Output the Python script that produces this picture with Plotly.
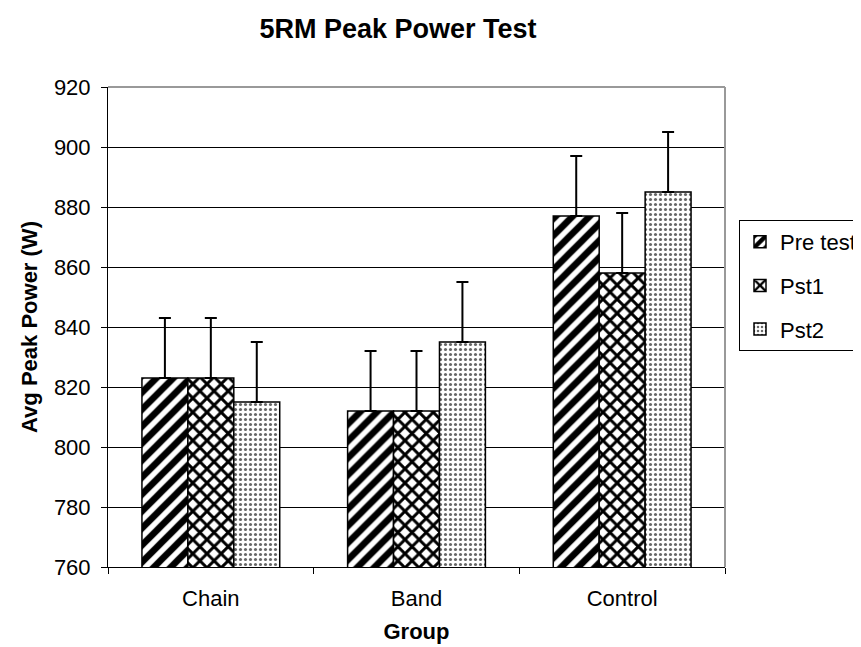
import plotly.graph_objects as go

categories = ["Chain", "Band", "Control"]
series_names = ["Pre test", "Pst1", "Pst2"]
pre_test = [823, 812, 877]
pst1 = [823, 812, 858]
pst2 = [815, 835, 885]
err_pre = [20, 20, 20]
err_pst1 = [20, 20, 20]
err_pst2 = [20, 20, 20]
y_ticks = [760, 780, 800, 820, 840, 860, 880, 900, 920]

FONT = "Liberation Sans, Arial, sans-serif"

patterns = [
    dict(shape="/", fgcolor="black", bgcolor="white", size=12, solidity=0.55, fillmode="replace"),
    dict(shape="x", fgcolor="black", bgcolor="white", size=10, solidity=0.5, fillmode="replace"),
    dict(shape=".", fgcolor="#666666", bgcolor="white", size=5, solidity=0.3, fillmode="replace"),
]

fig = go.Figure()
for name, vals, errs, pat in zip(series_names, [pre_test, pst1, pst2],
                                 [err_pre, err_pst1, err_pst2], patterns):
    fig.add_trace(go.Bar(
        x=categories, y=vals, name=name, legendgroup=name,
        marker=dict(color="white", pattern=pat, line=dict(color="black", width=1.5)),
        error_y=dict(type="data", array=errs, arrayminus=[0] * len(errs), symmetric=False,
                     color="black", thickness=2, width=6),
    ))

fig.update_layout(
    width=861, height=647,
    margin=dict(l=100, r=144, t=79, b=88, autoexpand=False),
    paper_bgcolor="white", plot_bgcolor="white",
    barmode="group", bargap=0.33, bargroupgap=0,
    font=dict(family=FONT, size=22, color="black"),
    title=dict(text="<b>5RM Peak Power Test</b>", x=390 / 861, xanchor="center",
               xref="container", yref="container",
               y=1 - 21 / 647, yanchor="middle", font=dict(size=27, family=FONT)),
    legend=dict(xref="container", yref="container",
                x=731 / 861, xanchor="left", y=1 - 212 / 647, yanchor="top",
                bordercolor="black", borderwidth=1, font=dict(size=22, family=FONT),
                tracegroupgap=12, itemwidth=30),
    showlegend=True,
)
fig.update_xaxes(
    title=dict(text="<b>Group</b>", font=dict(size=22, family=FONT), standoff=13),
    showline=True, linecolor="black", linewidth=1,
    ticks="outside", tickson="boundaries", ticklen=6, tickcolor="black",
    ticklabelstandoff=12,
    showgrid=False,
)
fig.update_yaxes(
    title=dict(text="<b>Avg Peak Power (W)</b>", font=dict(size=22, family=FONT), standoff=10),
    range=[760, 920], tickvals=y_ticks,
    showline=True, linecolor="black", linewidth=1,
    ticks="outside", ticklen=6, tickcolor="black",
    ticklabelstandoff=6,
    showgrid=True, gridcolor="black", gridwidth=1,
    zeroline=False,
)
fig.add_shape(type="line", xref="paper", yref="paper", x0=0, x1=1, y0=1, y1=1,
              line=dict(color="#999999", width=2))
fig.add_shape(type="line", xref="paper", yref="paper", x0=1, x1=1, y0=0, y1=1,
              line=dict(color="#999999", width=2))

fig.write_html("out.html")
